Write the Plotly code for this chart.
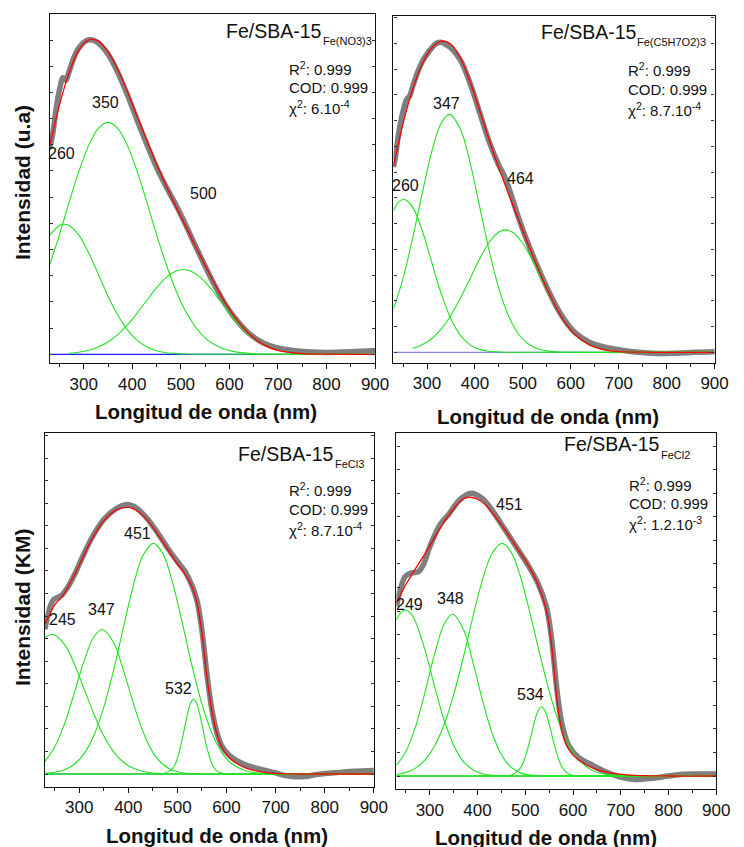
import plotly.graph_objects as go

FONT = "Liberation Sans, Arial, sans-serif"
W, H = 744, 847

# ---------------- Panel 1 : Fe/SBA-15 Fe(NO3)3 ----------------
DATA1_X = [230, 236, 244, 252, 257, 263, 270, 280, 290, 305, 318, 330, 350, 370, 390, 410, 430, 450, 470, 490,
           510, 530, 550, 570, 590, 610, 640, 670, 700, 730, 770, 800, 850, 900]
DATA1_Y = [.655, .70, .79, .855, .88, .872, .90, .945, .975, .998, 1.0, .99, .955, .897, .825, .745, .668, .595,
           .532, .475, .412, .345, .28, .218, .163, .118, .067, .036, .02, .012, .007, .006, .008, .012]
FIT1_X = [230, 250, 270, 290, 310, 330, 350, 370, 390, 410, 430, 450, 470, 490, 510, 530, 550, 570, 590, 610,
          640, 670, 700, 750, 800, 900]
FIT1_Y = [.665, .793, .897, .968, 1.0, .997, .962, .907, .835, .757, .680, .605, .535, .469, .407, .344, .283,
          .223, .167, .121, .066, .031, .0128, .0022, .0003, 0]
P1A_X = [230, 250, 260, 270, 290, 310, 330, 350, 370, 390, 410, 430, 450, 470, 490, 510, 560, 650, 750, 900]
P1A_Y = [.379, .410, .414, .410, .379, .323, .255, .185, .125, .0775, .0444, .0236, .0116, .0052, .0022, .0008,
         0, 0, 0, 0]
P1B_X = [230, 250, 270, 290, 310, 330, 350, 370, 390, 410, 430, 450, 470, 490, 510, 530, 550, 570, 590, 610,
         640, 670, 700, 800, 900]
P1B_Y = [.285, .381, .484, .582, .664, .719, .738, .719, .664, .582, .484, .381, .285, .202, .136, .0868, .0525,
         .0302, .0164, .0085, .0029, .0009, 0, 0, 0]
P1C_X = [270, 290, 310, 330, 350, 370, 390, 410, 430, 450, 470, 490, 505, 520, 540, 560, 580, 600, 620, 640,
         670, 700, 750, 800, 900]
P1C_Y = [.0032, .0067, .0128, .0232, .0394, .0627, .0936, .131, .172, .212, .245, .265, .270, .265, .245, .212,
         .172, .131, .0936, .0627, .0305, .0128, .0022, .0003, 0]
PEAKS1 = ["260", "350", "500"]

# ---------------- Panel 2 : Fe/SBA-15 Fe(C5H7O2)3 ----------------
DATA2_X = [230, 234, 240, 250, 258, 264, 270, 280, 290, 300, 310, 320, 330, 340, 350, 370, 390, 410, 430, 450,
           460, 470, 490, 510, 530, 550, 570, 590, 610, 640, 670, 700, 740, 780, 820, 860, 900]
DATA2_Y = [.60, .63, .70, .78, .82, .83, .86, .905, .94, .965, .985, 1.0, 1.003, .995, .985, .945, .87, .775,
           .68, .605, .575, .535, .44, .355, .28, .21, .148, .098, .062, .032, .017, .008, 0, -.004, -.003, 0, .002]
FIT2_X = [230, 250, 270, 290, 310, 330, 350, 370, 390, 410, 430, 450, 470, 490, 510, 530, 550, 570, 590, 610,
          640, 670, 700, 750, 800, 900]
FIT2_Y = [.602, .740, .851, .933, .985, 1.007, .997, .951, .875, .782, .686, .596, .513, .433, .354, .277, .206,
          .143, .092, .0558, .023, .008, .0024, .0002, 0, 0]
P2A_X = [230, 240, 252, 270, 290, 310, 330, 350, 370, 390, 410, 430, 450, 470, 520, 600, 700, 800, 900]
P2A_Y = [.458, .484, .495, .470, .394, .290, .188, .108, .0543, .0241, .0094, .0032, .001, 0, 0, 0, 0, 0, 0]
P2B_X = [230, 250, 270, 290, 310, 330, 347, 370, 390, 410, 430, 450, 470, 490, 510, 530, 550, 570, 600, 700,
         800, 900]
P2B_Y = [.141, .239, .369, .514, .650, .743, .770, .721, .612, .470, .327, .206, .118, .0607, .0284, .012, .0046,
         .0016, 0, 0, 0, 0]
P2C_X = [270, 290, 310, 330, 350, 370, 390, 410, 430, 450, 464, 480, 500, 520, 540, 560, 580, 600, 620, 640,
         670, 700, 750, 800, 900]
P2C_Y = [.0124, .0245, .0447, .076, .120, .176, .239, .303, .356, .389, .396, .387, .352, .297, .233, .170, .115,
         .0723, .0422, .023, .008, .0024, .0002, 0, 0]
PEAKS2 = ["260", "347", "464"]

# ---------------- Panel 3 : Fe/SBA-15 FeCl3 ----------------
DATA3_X = [230, 236, 242, 248, 256, 264, 275, 290, 305, 325, 350, 375, 395, 410, 425, 440, 460, 480, 500, 515,
           530, 540, 550, 560, 570, 580, 590, 605, 620, 640, 670, 700, 720, 740, 760, 780, 800, 830, 860, 900]
DATA3_Y = [.535, .585, .625, .645, .652, .66, .685, .735, .795, .87, .94, .98, .995, .99, .97, .94, .89, .835,
           .785, .75, .695, .64, .53, .37, .24, .155, .105, .07, .05, .033, .017, .004, -.006, -.01, -.009, -.003,
           .002, .006, .01, .013]
FIT3_X = [230, 240, 250, 265, 285, 305, 325, 350, 375, 400, 420, 440, 460, 480, 500, 515, 530, 540, 550, 560,
          570, 580, 590, 605, 620, 640, 670, 700, 750, 800, 900]
FIT3_Y = [.554, .59, .625, .655, .717, .79, .865, .935, .975, .985, .97, .935, .885, .83, .775, .74, .69, .63,
          .52, .36, .235, .15, .10, .062, .04, .022, .008, .002, 0, 0, 0]
P3A_X = [230, 245, 270, 290, 310, 330, 350, 370, 390, 410, 430, 450, 470, 490, 530, 600, 700, 800, 900]
P3A_Y = [.503, .516, .479, .407, .314, .221, .141, .082, .0435, .021, .0092, .0037, .0013, .0004, 0, 0, 0, 0, 0]
P3B_X = [230, 250, 270, 290, 310, 330, 347, 370, 390, 410, 430, 450, 470, 490, 510, 530, 560, 600, 700, 800, 900]
P3B_Y = [.046, .0995, .185, .299, .418, .507, .534, .486, .384, .263, .156, .080, .036, .0139, .0047, .0013, 0,
         0, 0, 0, 0]
P3C_X = [230, 250, 270, 290, 310, 330, 350, 370, 390, 410, 430, 451, 470, 490, 510, 530, 550, 570, 590, 610,
         640, 670, 700, 800, 900]
P3C_Y = [.0022, .0062, .0157, .036, .0755, .143, .246, .383, .541, .694, .808, .852, .815, .708, .557, .398, .258,
         .152, .081, .039, .011, .0025, .0004, 0, 0]
P3D_X = [230, 350, 440, 470, 490, 500, 510, 520, 527, 533, 540, 550, 560, 570, 580, 595, 620, 700, 800, 900]
P3D_Y = [0, 0, 0, .001, .0197, .058, .130, .217, .262, .276, .257, .183, .0974, .039, .0118, .0011, 0, 0, 0, 0]
PEAKS3 = ["245", "347", "451", "532"]

# ---------------- Panel 4 : Fe/SBA-15 FeCl2 ----------------
DATA4_X = [230, 234, 238, 248, 259, 268, 276, 286, 300, 321, 341, 362, 386, 410, 430, 458, 485, 506, 527, 544,
           554, 561, 568, 578, 592, 612, 633, 660, 695, 730, 765, 800, 830, 860, 900]
DATA4_Y = [.60, .63, .658, .705, .717, .72, .723, .746, .811, .888, .929, .976, 1.0, .982, .941, .87, .80, .745,
           .68, .60, .50, .39, .28, .175, .105, .065, .045, .021, -.002, -.012, -.008, 0, .006, .007, .007]
FIT4_X = [230, 248, 266, 286, 307, 328, 348, 369, 382, 396, 417, 437, 458, 485, 506, 527, 544, 554, 561, 568,
          578, 592, 612, 646, 681, 720, 800, 900]
FIT4_Y = [.611, .672, .723, .776, .835, .894, .941, .979, .986, .982, .959, .917, .87, .80, .746, .676, .587,
          .481, .363, .245, .151, .092, .057, .025, .010, .003, 0, 0]
P4A_X = [230, 240, 249, 260, 270, 290, 310, 330, 350, 370, 390, 410, 430, 450, 470, 520, 600, 700, 800, 900]
P4A_Y = [.553, .579, .587, .575, .546, .445, .317, .198, .109, .052, .022, .0081, .0026, .0007, 0, 0, 0, 0, 0, 0]
P4B_X = [230, 250, 270, 290, 310, 330, 348, 370, 390, 410, 430, 450, 470, 490, 510, 530, 560, 600, 700, 800, 900]
P4B_Y = [.0377, .0877, .174, .297, .431, .537, .572, .520, .405, .270, .154, .075, .0312, .0111, .0034, .0009,
         0, 0, 0, 0, 0]
P4C_X = [230, 250, 270, 290, 310, 330, 350, 370, 390, 410, 430, 451, 470, 490, 510, 530, 550, 570, 590, 610,
         640, 670, 700, 800, 900]
P4C_Y = [.0053, .0128, .028, .0569, .106, .182, .288, .418, .561, .692, .786, .823, .793, .704, .575, .433, .300,
         .191, .112, .0607, .0207, .0058, .0014, 0, 0]
P4D_X = [230, 350, 440, 470, 490, 500, 510, 520, 527, 534, 541, 550, 560, 570, 580, 595, 620, 700, 800, 900]
P4D_Y = [0, 0, 0, .0026, .0285, .068, .129, .197, .232, .245, .232, .184, .116, .058, .0233, .004, 0, 0, 0, 0]
PEAKS4 = ["249", "348", "451", "534"]

BASE_X = [230, 900]
BASE_Y = [0, 0]

SAMPLES = ["Fe(NO3)3", "Fe(C5H7O2)3", "FeCl3", "FeCl2"]
R2 = ["0.999", "0.999", "0.999", "0.999"]
COD = ["0.999", "0.999", "0.999", "0.999"]
CHI2 = ["6.10<sup>-4</sup>", "8.7.10<sup>-4</sup>", "8.7.10<sup>-4</sup>", "1.2.10<sup>-3</sup>"]
X_TITLE = "Longitud de onda (nm)"
Y_TITLES = ["Intensidad (u.a)", "Intensidad (KM)"]

# ---------------- layout configuration (pixels) ----------------
FRAMES = [(50.7, 382.3, 14.3, 363.3), (401.0, 728.3, 16.0, 362.7),
          (45.7, 381.0, 432.7, 786.7), (404.0, 730.0, 432.7, 789.3)]
YRANGES = [(-0.0286, 1.0818), (-0.0337, 1.0883), (-0.0469, 1.2608), (-0.047, 1.2144)]
BASE_COLORS = ["#1a1aff", "#8282f2", "#2fb36a", "#22dd22"]
TITLE_POS = [(329.5, 30.8, 41.0), (650.0, 31.7, 41.5), (341.5, 453.7, 464.0), (674.0, 444.2, 455.0)]
STAT_POS = [(293.0, 68.7, 87.8, 108.0), (638.3, 70.0, 89.0, 109.5),
            (292.3, 489.7, 509.2, 529.5), (639.0, 484.7, 503.7, 523.5)]
PEAK_POS = [[(254, .64), (345, .80), (547.6, .512)],
            [(255.5, .541), (341, .804), (494.7, .563)],
            [(266, .569), (344.7, .606), (418, .889), (502.7, .3165)],
            [(257.5, .605), (343.3, .629), (466.8, .959), (511.4, .287)]]
XTITLE_POS = [(209.5, 411.4), (558.9, 416.0), (220.8, 835.0), (556.7, 837.0)]
YTITLE_POS = [(22.5, 183.0), (22.5, 607.0)]

GREEN = "#1fe31f"
panels = [
    (DATA1_X, DATA1_Y, FIT1_X, FIT1_Y, [(P1A_X, P1A_Y), (P1B_X, P1B_Y), (P1C_X, P1C_Y)], PEAKS1),
    (DATA2_X, DATA2_Y, FIT2_X, FIT2_Y, [(P2A_X, P2A_Y), (P2B_X, P2B_Y), (P2C_X, P2C_Y)], PEAKS2),
    (DATA3_X, DATA3_Y, FIT3_X, FIT3_Y, [(P3A_X, P3A_Y), (P3B_X, P3B_Y), (P3C_X, P3C_Y), (P3D_X, P3D_Y)], PEAKS3),
    (DATA4_X, DATA4_Y, FIT4_X, FIT4_Y, [(P4A_X, P4A_Y), (P4B_X, P4B_Y), (P4C_X, P4C_Y), (P4D_X, P4D_Y)], PEAKS4),
]


def px(x):
    return x / W


def py(y):
    return 1 - y / H


fig = go.Figure()
annotations = []
layout_axes = {}

for i, (dx, dy, fx, fy, comps, peaks) in enumerate(panels):
    n = "" if i == 0 else str(i + 1)
    xa, ya = "x" + n, "y" + n
    fig.add_trace(go.Scatter(x=dx, y=dy, xaxis=xa, yaxis=ya, mode="lines",
                             line=dict(color="#7f7f7f", width=5.5, shape="spline"), hoverinfo="skip"))
    fig.add_trace(go.Scatter(x=BASE_X, y=BASE_Y, xaxis=xa, yaxis=ya, mode="lines",
                             line=dict(color=BASE_COLORS[i], width=1.3), hoverinfo="skip"))
    for cx, cy in comps:
        fig.add_trace(go.Scatter(x=cx, y=cy, xaxis=xa, yaxis=ya, mode="lines",
                                 line=dict(color=GREEN, width=1.1, shape="spline"), hoverinfo="skip"))
    fig.add_trace(go.Scatter(x=fx, y=fy, xaxis=xa, yaxis=ya, mode="lines",
                             line=dict(color="#ff0000", width=1.3, shape="spline"), hoverinfo="skip"))

    l, r, t, b = FRAMES[i]
    layout_axes["xaxis" + n] = dict(
        domain=[px(l), px(r)], anchor=ya, range=[230, 900], tick0=0, dtick=100,
        ticks="outside", ticklen=5, tickwidth=1, tickcolor="#111", showline=True, linecolor="#111",
        linewidth=1.3, mirror=True, showgrid=False, zeroline=False,
        tickfont=dict(family=FONT, size=17, color="#111"),
        minor=dict(dtick=50, tick0=0, ticks="outside", ticklen=3, tickcolor="#111", showgrid=False))
    layout_axes["yaxis" + n] = dict(
        domain=[py(b), py(t)], anchor=xa, range=list(YRANGES[i]), tick0=0, dtick=1 / 12,
        ticks="inside", ticklen=3, tickwidth=1, tickcolor="#333", showticklabels=False,
        showline=True, linecolor="#111", linewidth=1.3, mirror="ticks", showgrid=False, zeroline=False)

    tx, tyy, tys = TITLE_POS[i]
    annotations.append(dict(x=px(tx), y=py(tyy), xref="paper", yref="paper", text="Fe/SBA-15",
                            xanchor="right", yanchor="middle", showarrow=False, borderpad=0,
                            font=dict(family=FONT, size=19.5, color="#111")))
    annotations.append(dict(x=px(tx - 1.5), y=py(tys), xref="paper", yref="paper", text=SAMPLES[i],
                            xanchor="left", yanchor="middle", showarrow=False, borderpad=0,
                            font=dict(family=FONT, size=11, color="#111")))
    sx, s1, s2, s3 = STAT_POS[i]
    for txt, yy in [("R<sup>2</sup>: " + R2[i], s1), ("COD: " + COD[i], s2), ("χ<sup>2</sup>: " + CHI2[i], s3)]:
        annotations.append(dict(x=px(sx), y=py(yy), xref="paper", yref="paper", text=txt,
                                xanchor="left", yanchor="middle", showarrow=False,
                                font=dict(family=FONT, size=15, color="#111")))
    for lab, (lx, ly) in zip(peaks, PEAK_POS[i]):
        annotations.append(dict(x=lx, y=ly, xref=xa, yref=ya, text=lab, showarrow=False,
                                xanchor="center", yanchor="middle",
                                font=dict(family=FONT, size=16, color="#111")))
    xx, xy = XTITLE_POS[i]
    annotations.append(dict(x=px(xx), y=py(xy), xref="paper", yref="paper", text="<b>" + X_TITLE + "</b>",
                            showarrow=False, xanchor="center", yanchor="middle",
                            font=dict(family=FONT, size=20.5, color="#111")))

for (yx, yy), txt in zip(YTITLE_POS, Y_TITLES):
    annotations.append(dict(x=px(yx), y=py(yy), xref="paper", yref="paper", text="<b>" + txt + "</b>",
                            showarrow=False, textangle=-90, xanchor="center", yanchor="middle",
                            font=dict(family=FONT, size=21, color="#111")))

fig.update_layout(width=W, height=H, margin=dict(l=0, r=0, t=0, b=0), paper_bgcolor="white",
                  plot_bgcolor="white", showlegend=False, annotations=annotations, **layout_axes)

# remove the default page margin so the figure sits at the window's top-left corner
fig.write_html("out.html", config={"displayModeBar": False},
               post_script="document.body.style.margin='0';document.body.style.overflow='hidden';")
